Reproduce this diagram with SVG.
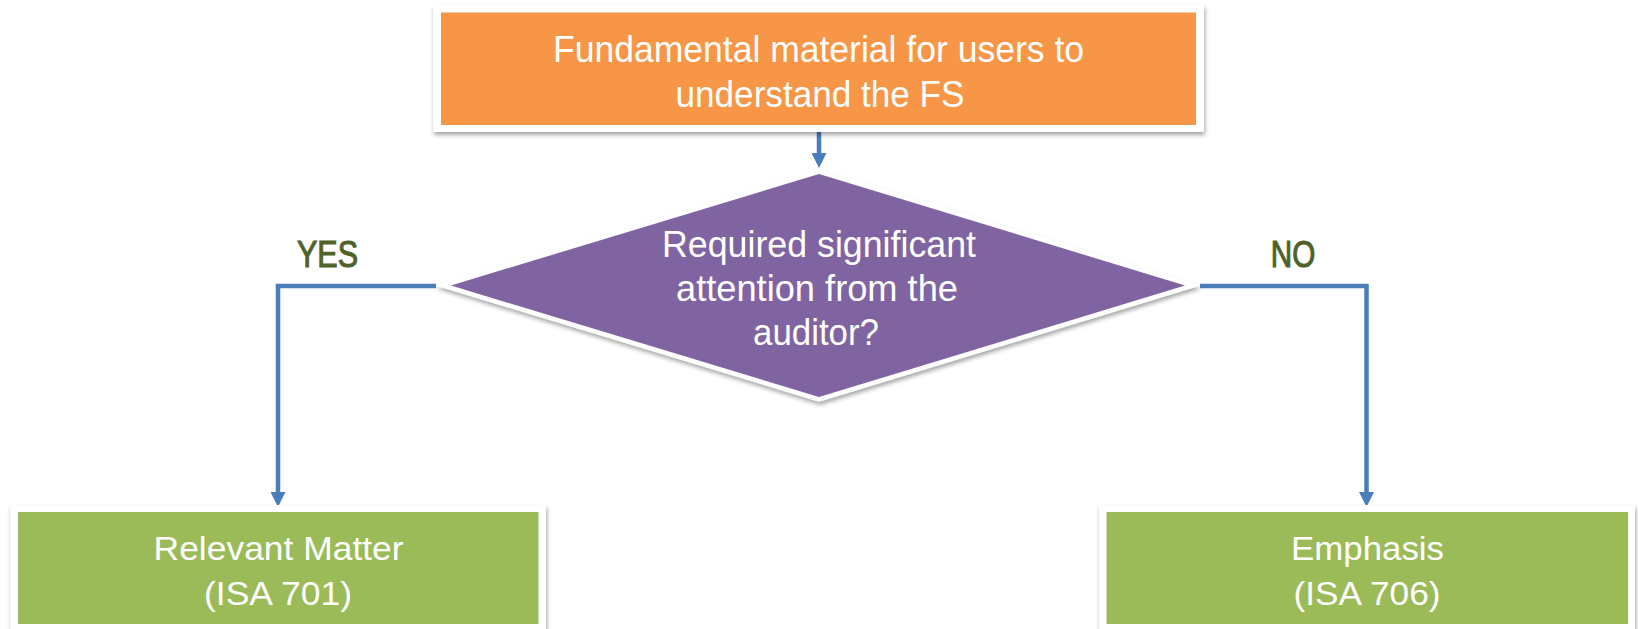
<svg xmlns="http://www.w3.org/2000/svg" width="1638" height="629" viewBox="0 0 1638 629">
  <defs>
    <filter id="shadow" x="-5%" y="-10%" width="110%" height="130%">
      <feDropShadow dx="1" dy="3" stdDeviation="2" flood-color="#000" flood-opacity="0.35"/>
    </filter>
    <marker id="arrow" markerUnits="userSpaceOnUse" markerWidth="15" markerHeight="15" refX="0" refY="7.5" orient="auto">
      <path d="M0,0 L15,7.5 L0,15 Z" fill="#4A7EBB"/>
    </marker>
  </defs>
  <style>
    .frame { fill: #FFFFFF; filter: url(#shadow); }
    .txt { font-family: "Liberation Sans", Arial, sans-serif; fill: #FFFFFF; text-anchor: middle; }
    .big { font-size: 36.5px; }
    .mid { font-size: 33px; }
    .lbl { font-family: "Liberation Sans", Arial, sans-serif; font-size: 37px; fill: #4F6228; stroke: #4F6228; stroke-width: 1.1; text-anchor: middle; }
    .conn { fill: none; stroke: #4A7EBB; stroke-width: 4.5; marker-end: url(#arrow); }
  </style>
  <rect width="1638" height="629" fill="#FFFFFF"/>

  <g id="connectors">
    <path class="conn" d="M819,130 L819,153"/>
    <path class="conn" d="M436,286 L278,286 L278,492"/>
    <path class="conn" d="M1200,286 L1366.5,286 L1366.5,492"/>
    <text class="lbl" x="327.5" y="266.5" textLength="61" lengthAdjust="spacingAndGlyphs">YES</text>
    <text class="lbl" x="1293" y="266.5" textLength="44.5" lengthAdjust="spacingAndGlyphs">NO</text>
  </g>

  <g id="node-fundamental">
    <rect class="frame" x="433" y="5" width="771" height="127"/>
    <rect x="441" y="12.5" width="755" height="112.5" fill="#F79646"/>
    <text class="txt big" x="818.5" y="62" textLength="531" lengthAdjust="spacingAndGlyphs">Fundamental material for users to</text>
    <text class="txt big" x="820" y="107" textLength="289" lengthAdjust="spacingAndGlyphs">understand the FS</text>
  </g>

  <g id="node-decision">
    <polygon points="819,174 1185,285.5 819,397 451,285.5" fill="#FFFFFF" stroke="#FFFFFF" stroke-width="9" stroke-linejoin="miter" filter="url(#shadow)"/>
    <polygon points="819,174 1185,285.5 819,397 451,285.5" fill="#8064A2"/>
    <text class="txt big" x="819" y="257" textLength="314" lengthAdjust="spacingAndGlyphs">Required significant</text>
    <text class="txt big" x="817" y="301" textLength="282" lengthAdjust="spacingAndGlyphs">attention from the</text>
    <text class="txt big" x="816" y="345" textLength="126" lengthAdjust="spacingAndGlyphs">auditor?</text>
  </g>

  <g id="node-relevant">
    <rect class="frame" x="10" y="505" width="536" height="130"/>
    <rect x="18" y="512" width="520.5" height="112" fill="#9BBB59"/>
    <text class="txt mid" x="278.6" y="560" textLength="250" lengthAdjust="spacingAndGlyphs">Relevant Matter</text>
    <text class="txt mid" x="278" y="605" textLength="148" lengthAdjust="spacingAndGlyphs">(ISA 701)</text>
  </g>

  <g id="node-emphasis">
    <rect class="frame" x="1099" y="505" width="536" height="130"/>
    <rect x="1106.5" y="512" width="521.5" height="112" fill="#9BBB59"/>
    <text class="txt mid" x="1367.5" y="560" textLength="153" lengthAdjust="spacingAndGlyphs">Emphasis</text>
    <text class="txt mid" x="1367" y="605" textLength="147" lengthAdjust="spacingAndGlyphs">(ISA 706)</text>
  </g>
</svg>
